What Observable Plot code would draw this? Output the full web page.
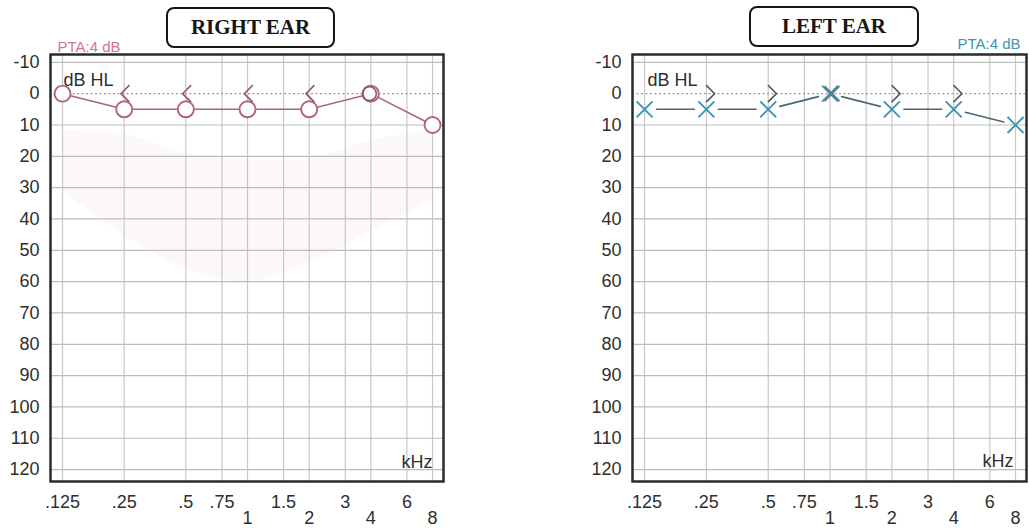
<!DOCTYPE html>
<html>
<head>
<meta charset="utf-8">
<script src="https://cdn.jsdelivr.net/npm/d3@7"></script>
<script src="https://cdn.jsdelivr.net/npm/@observablehq/plot@0.6"></script>
<style>
  html, body { margin: 0; padding: 0; background: #fff; }
  #wrap { position: relative; width: 1029px; height: 530px; overflow: hidden; font-family: "Liberation Sans", Arial, sans-serif; }
  .panel { position: absolute; top: 0; }
  .ear-title {
    position: absolute; box-sizing: border-box; border: 2px solid #151515; border-radius: 8px;
    font-family: "Liberation Serif", "Times New Roman", serif; font-weight: bold; font-size: 21px;
    color: #151515; background: #fff; display: flex; align-items: center; justify-content: center;
  }
</style>
</head>
<body>
<div id="wrap">
  <div id="right" class="panel" style="left:0px"></div>
  <div id="left" class="panel" style="left:519px"></div>
  <div class="ear-title" style="left:166px;top:7px;width:169px;height:41px">RIGHT EAR</div>
  <div class="ear-title" style="left:749px;top:6px;width:170px;height:41px">LEFT EAR</div>
</div>
<script>
// Test frequencies (kHz) and air-conduction thresholds (dB HL)
const freqs = [0.125, 0.25, 0.5, 1, 2, 4, 8];
const rightAirDb = [0, 5, 5, 5, 5, 0, 10];
const leftAirDb = [5, 5, 5, 0, 5, 5, 10];

// Bone-conduction thresholds
const rightBoneFreqs = [0.25, 0.5, 1, 2];
const rightBoneDb = [0, 0, 0, 0];
const leftBoneFreqs = [0.25, 0.5, 2, 4];
const leftBoneDb = [0, 0, 0, 0];

// Repeated (overlapping) air readings
const rightRepeatFreqs = [4];
const rightRepeatDb = [0];
const leftRepeatFreqs = [1];
const leftRepeatDb = [0];

// Pure-tone average frequencies
const ptaFreqs = [0.5, 1, 2, 4];

// Axis ticks and labels
const tickFreqs = [0.125, 0.25, 0.5, 0.75, 1, 1.5, 2, 3, 4, 6, 8];
const tickLabels = [".125", ".25", ".5", ".75", "1", "1.5", "2", "3", "4", "6", "8"];
const lowerRowFreqs = [1, 2, 4, 8];
const dbTicks = [-10, 0, 10, 20, 30, 40, 50, 60, 70, 80, 90, 100, 110, 120];

// Speech area outline (right chart background)
const speechFreqs = [0.125, 0.25, 0.5, 1, 2, 4, 8];
const speechTopDb = [12, 13, 19, 21, 21, 15, 12];
const speechBottomDb = [31, 45, 56, 60, 54, 44, 34];

const pta = (air) => Math.round(d3.mean(ptaFreqs, f => air[freqs.indexOf(f)]));

// Bone-conduction brackets and the air-conduction cross
const symbolLess = {
  draw(ctx, size) {
    const s = Math.sqrt(size / Math.PI);
    ctx.moveTo(s * 0.5, -s);
    ctx.lineTo(-s * 0.5, 0);
    ctx.lineTo(s * 0.5, s);
  }
};
const symbolGreater = {
  draw(ctx, size) {
    const s = Math.sqrt(size / Math.PI);
    ctx.moveTo(-s * 0.5, -s);
    ctx.lineTo(s * 0.5, 0);
    ctx.lineTo(-s * 0.5, s);
  }
};
const symbolCross = {
  draw(ctx, size) {
    const s = Math.sqrt(size / Math.PI);
    ctx.moveTo(-s, -s); ctx.lineTo(s, s);
    ctx.moveTo(-s, s); ctx.lineTo(s, -s);
  }
};

const font = "'Liberation Sans', Arial, sans-serif";
const labelColor = "#2e2e2e";

function baseMarks() {
  const upper = tickFreqs.filter(f => !lowerRowFreqs.includes(f));
  const fmt = f => tickLabels[tickFreqs.indexOf(f)];
  return [
    Plot.ruleX(tickFreqs, {stroke: "#c8c8c8", strokeWidth: 1.2}),
    Plot.ruleY(dbTicks.filter(d => d !== 0), {stroke: "#bdbdbd", strokeWidth: 1.2}),
    Plot.ruleY([0], {stroke: "#9a9a9a", strokeWidth: 1.2, strokeDasharray: "2,2.5"}),
    // dB labels along the left edge
    Plot.text(dbTicks, {y: d => d, text: d => String(d), frameAnchor: "left", dx: -11, textAnchor: "end", lineAnchor: "middle", fontSize: 18, fill: labelColor}),
    // frequency labels in two staggered rows below the frame
    Plot.text(upper, {x: d => d, text: fmt, frameAnchor: "bottom", dy: 21, lineAnchor: "middle", fontSize: 18, fill: labelColor}),
    Plot.text(lowerRowFreqs, {x: d => d, text: fmt, frameAnchor: "bottom", dy: 37, lineAnchor: "middle", fontSize: 18, fill: labelColor})
  ];
}

function chart({width, marginLeft, marginRight, marks}) {
  return Plot.plot({
    width, height: 530,
    marginTop: 54, marginBottom: 49, marginLeft, marginRight,
    x: {type: "log", domain: [0.1092, 9.05], axis: null},
    y: {domain: [-12.5, 123.8], reverse: true, axis: null},
    style: {fontFamily: font, fontSize: "18px", color: labelColor, background: "transparent", overflow: "visible"},
    marks
  });
}

const idx = d3.range(freqs.length);
const segIdx = d3.range(freqs.length - 1);

// Right ear: circles (air) and "<" (bone)
const rightColor = "#b0647f";
const rightPlot = chart({
  width: 500, marginLeft: 50, marginRight: 57,
  marks: [
    Plot.areaY(d3.range(speechFreqs.length), {
      x: i => speechFreqs[i], y1: i => speechTopDb[i], y2: i => speechBottomDb[i],
      curve: "catmull-rom", fill: "#f6dde0", fillOpacity: 0.22
    }),
    ...baseMarks(),
    Plot.line(idx, {x: i => freqs[i], y: i => rightAirDb[i], stroke: "#a86680", strokeWidth: 1.6}),
    Plot.dot(rightBoneFreqs, {x: d => d, y: (d, i) => rightBoneDb[i], symbol: symbolLess, r: 8.5, dx: 1, fill: "none", stroke: "#8c5a6e", strokeWidth: 1.6}),
    Plot.dot(idx, {x: i => freqs[i], y: i => rightAirDb[i], symbol: "circle", r: 8, fill: "white", stroke: rightColor, strokeWidth: 1.9}),
    Plot.dot(rightRepeatFreqs, {x: d => d, y: (d, i) => rightRepeatDb[i], symbol: "circle", r: 7, dx: -1.5, fill: "none", stroke: "#8e5a6e", strokeWidth: 1.6}),
    Plot.text([`PTA:${pta(rightAirDb)} dB`], {text: d => d, frameAnchor: "top-left", dx: 7, dy: -7, textAnchor: "start", lineAnchor: "middle", fontSize: 15, fill: "#d4748f"}),
    Plot.text(["dB HL"], {text: d => d, frameAnchor: "top-left", dx: 13, dy: 26, textAnchor: "start", lineAnchor: "middle", fontSize: 18, fill: labelColor}),
    Plot.text(["kHz"], {text: d => d, frameAnchor: "bottom-right", dx: -11, dy: -19, textAnchor: "end", lineAnchor: "middle", fontSize: 18, fill: labelColor}),
    Plot.frame({stroke: "#2b2b2b", strokeWidth: 2.5})
  ]
});

// Left ear: crosses (air) and ">" (bone)
const leftColor = "#3f93b3";
const leftPlot = chart({
  width: 510, marginLeft: 113, marginRight: 3,
  marks: [
    ...baseMarks(),
    Plot.arrow(segIdx, {
      x1: i => freqs[i], y1: i => leftAirDb[i], x2: i => freqs[i + 1], y2: i => leftAirDb[i + 1],
      headLength: 0, insetStart: 12, insetEnd: 12, stroke: "#4f6677", strokeWidth: 1.6
    }),
    Plot.dot(leftBoneFreqs, {x: d => d, y: (d, i) => leftBoneDb[i], symbol: symbolGreater, r: 8.5, dx: 4, fill: "none", stroke: "#555a60", strokeWidth: 1.6}),
    Plot.dot(idx, {x: i => freqs[i], y: i => leftAirDb[i], symbol: symbolCross, r: 8, fill: "none", stroke: leftColor, strokeWidth: 1.9}),
    Plot.dot(leftRepeatFreqs, {x: d => d, y: (d, i) => leftRepeatDb[i], symbol: symbolCross, r: 7.5, dx: 2, fill: "none", stroke: "#557a88", strokeWidth: 1.6}),
    Plot.text([`PTA:${pta(leftAirDb)} dB`], {text: d => d, frameAnchor: "top-right", dx: -6, dy: -10, textAnchor: "end", lineAnchor: "middle", fontSize: 15, fill: leftColor}),
    Plot.text(["dB HL"], {text: d => d, frameAnchor: "top-left", dx: 15, dy: 26, textAnchor: "start", lineAnchor: "middle", fontSize: 18, fill: labelColor}),
    Plot.text(["kHz"], {text: d => d, frameAnchor: "bottom-right", dx: -13, dy: -20, textAnchor: "end", lineAnchor: "middle", fontSize: 18, fill: labelColor}),
    Plot.frame({stroke: "#2b2b2b", strokeWidth: 2.5})
  ]
});

document.getElementById("right").append(rightPlot);
document.getElementById("left").append(leftPlot);
</script>
</body>
</html>
